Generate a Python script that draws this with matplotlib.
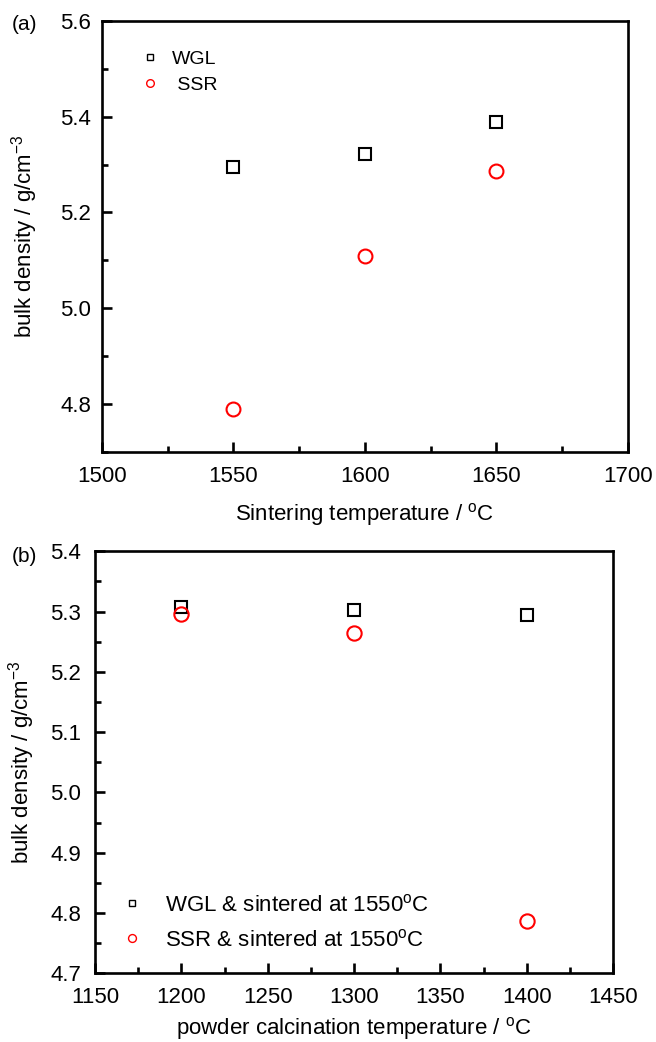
import matplotlib
matplotlib.use('Agg')
from matplotlib import pyplot as plt
from matplotlib.ticker import MultipleLocator

plt.rcParams['font.family'] = ['Liberation Sans', 'DejaVu Sans']
plt.rcParams['mathtext.default'] = 'regular'

# (a) плотность в зависимости от температуры спекания
sinter_temp = [1550, 1600, 1650]
wgl_sinter = [5.294, 5.323, 5.388]
ssr_sinter = [4.790, 5.110, 5.286]

# (b) плотность в зависимости от температуры прокаливания порошка
calc_temp = [1200, 1300, 1400]
wgl_calc = [5.308, 5.303, 5.295]
ssr_calc = [5.296, 5.265, 4.787]


def style_axes(ax, xpad, ypad):
    # Рамка, засечки внутрь, размер подписей.
    for spine in ax.spines.values():
        spine.set_linewidth(1.9)
    ax.tick_params(which='both', direction='in', width=1.9, top=False, right=False,
                   labelsize=16)
    ax.tick_params(axis='x', pad=xpad)
    ax.tick_params(axis='y', pad=ypad)
    ax.tick_params(which='major', length=7)
    ax.tick_params(which='minor', length=4)
    ax.yaxis.set_major_formatter(lambda v, pos: f'{v:.1f}')


def render():
    fig = plt.figure(figsize=(6.56, 10.42), dpi=100)

    # Верхний график.
    ax1 = fig.add_axes([0.1555, 0.5665, 0.8014, 0.4133])
    ax1.plot(sinter_temp, wgl_sinter, 's', ms=8.3, mfc='none', mec='black', mew=1.5,
             label='WGL')
    ax1.plot(sinter_temp, ssr_sinter, 'o', ms=10, mfc='none', mec='red', mew=1.5,
             label=' SSR')
    ax1.set_xlim(1500, 1700)
    ax1.set_ylim(4.7, 5.6)
    ax1.xaxis.set_major_locator(MultipleLocator(50))
    ax1.xaxis.set_minor_locator(MultipleLocator(25))
    ax1.yaxis.set_major_locator(MultipleLocator(0.2))
    ax1.yaxis.set_minor_locator(MultipleLocator(0.1))
    style_axes(ax1, 10, 8)
    ax1.set_xlabel('Sintering temperature / $^{o}$C', fontsize=16)
    ax1.set_ylabel('bulk density / g/cm$^{-3}$', fontsize=16)
    ax1.xaxis.set_label_coords(0.5, -0.115)
    ax1.yaxis.set_label_coords(-0.118, 0.5)
    leg1 = ax1.legend(loc='upper left', bbox_to_anchor=(0.073, 0.932), frameon=False,
                      fontsize=14, handlelength=1.0, handletextpad=0.63,
                      labelspacing=0.44, borderpad=0, borderaxespad=0, markerscale=0.55)
    for h in leg1.legend_handles:
        h.set_markeredgewidth(1.0)

    # Нижний график.
    ax2 = fig.add_axes([0.1448, 0.0659, 0.790, 0.405])
    ax2.plot(calc_temp, wgl_calc, 's', ms=8.8, mfc='none', mec='black', mew=1.5,
             label='WGL & sintered at 1550$^{o}$C')
    ax2.plot(calc_temp, ssr_calc, 'o', ms=10.3, mfc='none', mec='red', mew=1.5,
             label='SSR & sintered at 1550$^{o}$C')
    ax2.set_xlim(1150, 1450)
    ax2.set_ylim(4.7, 5.4)
    ax2.xaxis.set_major_locator(MultipleLocator(50))
    ax2.xaxis.set_minor_locator(MultipleLocator(25))
    ax2.yaxis.set_major_locator(MultipleLocator(0.1))
    ax2.yaxis.set_minor_locator(MultipleLocator(0.05))
    style_axes(ax2, 10, 10)
    ax2.set_xlabel('powder calcination temperature / $^{o}$C', fontsize=16)
    ax2.set_ylabel('bulk density / g/cm$^{-3}$', fontsize=16)
    ax2.xaxis.set_label_coords(0.5, -0.098)
    ax2.yaxis.set_label_coords(-0.112, 0.5)
    leg2 = ax2.legend(loc='upper left', bbox_to_anchor=(0.050, 0.188), frameon=False,
                      fontsize=16, handlelength=1.0, handletextpad=0.99,
                      labelspacing=0.59, borderpad=0, borderaxespad=0, markerscale=0.55)
    for h in leg2.legend_handles:
        h.set_markeredgewidth(1.0)

    # Метки панелей.
    fig.text(0.018, 1 - 24 / 1042, '(a)', fontsize=15, va='center')
    fig.text(0.018, 1 - 557 / 1042, '(b)', fontsize=15, va='center')

    fig.savefig('out.png', dpi=100)


if __name__ == '__main__':
    render()
